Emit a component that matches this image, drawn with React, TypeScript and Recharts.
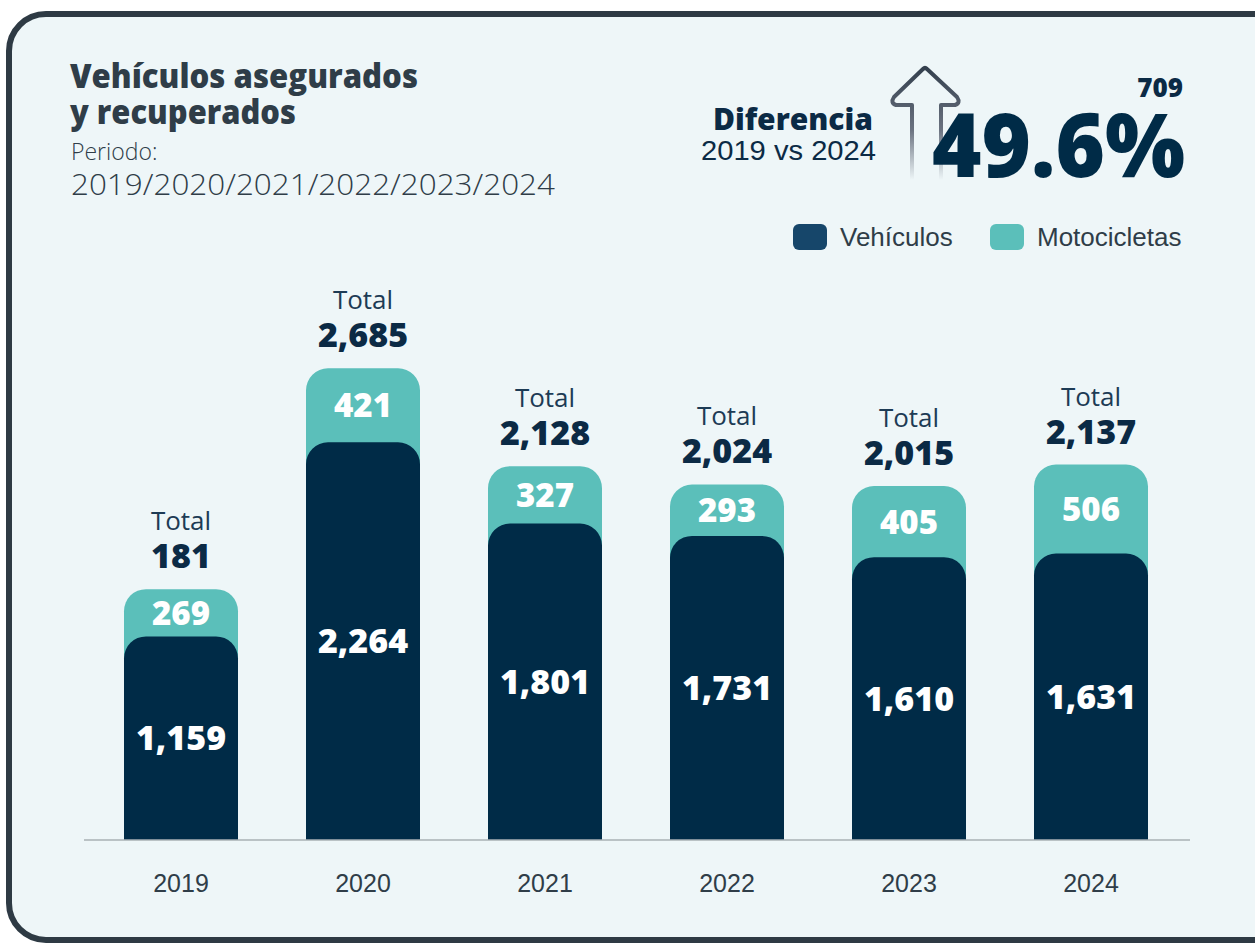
import React from 'react';
import { BarChart, Bar, XAxis, YAxis, LabelList } from 'recharts';

const years = ['2019', '2020', '2021', '2022', '2023', '2024'];
const vehiculos = [1159, 2264, 1801, 1731, 1610, 1631];
const motocicletas = [269, 421, 327, 293, 405, 506];
const totalLabels = ['181', '2,685', '2,128', '2,024', '2,015', '2,137'];

const DARK = '#002b47';
const TEAL = '#5bbfba';
const BG = '#eef6f8';
const TEXT = '#2f3d48';
const BOLD_FONT = '"Open Sans", sans-serif';
const PLAIN_FONT = '"Liberation Sans", Arial, sans-serif';

const data = years.map((year, i) => ({
  year,
  vehiculos: vehiculos[i],
  motocicletas: motocicletas[i],
  total: vehiculos[i] + motocicletas[i],
}));

const fmt = (n: number) => n.toLocaleString('en-US');

// labels for the teal (total) bar: "Total" + number above, moto count inside
const TealLabel = (props: any) => {
  const { x, y, width, height, index } = props;
  const cx = x + width / 2;
  const d = data[index];
  const tealH = (height * d.motocicletas) / d.total;
  return (
    <g>
      <text x={cx} y={y - 59} textAnchor="middle" fontFamily={BOLD_FONT} style={{ fontSize: 26 }} fill="#1d3b55">
        Total
      </text>
      <text x={cx} y={y - 21} textAnchor="middle" fontFamily={BOLD_FONT} fontWeight={800} style={{ fontSize: 34 }} fill="#0b2a45">
        {totalLabels[index]}
      </text>
      <text x={cx} y={y + tealH / 2 + 12} textAnchor="middle" fontFamily={BOLD_FONT} fontWeight={800} style={{ fontSize: 33 }} fill="#ffffff">
        {fmt(d.motocicletas)}
      </text>
    </g>
  );
};

const DarkLabel = (props: any) => {
  const { x, y, width, height, index } = props;
  return (
    <text x={x + width / 2} y={y + height / 2 + 12} textAnchor="middle" fontFamily={BOLD_FONT} fontWeight={800} style={{ fontSize: 34 }} fill="#ffffff">
      {fmt(data[index].vehiculos)}
    </text>
  );
};

const YearTick = (props: any) => {
  const { x, y, payload } = props;
  return (
    <text x={x} y={y + 50} textAnchor="middle" fontFamily={PLAIN_FONT} style={{ fontSize: 25 }} fill={TEXT}>
      {payload.value}
    </text>
  );
};

const Header = () => (
  <svg width={1255} height={300} style={{ position: 'absolute', left: 0, top: 0 }}>
    <defs>
      <linearGradient id="arrowFade" x1="0" y1="0" x2="0" y2="1">
        <stop offset="0%" stopColor="#34404e" />
        <stop offset="55%" stopColor="#6a7280" />
        <stop offset="100%" stopColor={BG} />
      </linearGradient>
    </defs>
    <text x={70} y={88} fontFamily={BOLD_FONT} fontWeight={800} fontSize={33} fill={TEXT} textLength={348} lengthAdjust="spacingAndGlyphs">
      Vehículos asegurados
    </text>
    <text x={70} y={124} fontFamily={BOLD_FONT} fontWeight={800} fontSize={33} fill={TEXT} textLength={226} lengthAdjust="spacingAndGlyphs">
      y recuperados
    </text>
    <text x={71} y={160} fontFamily={BOLD_FONT} fontWeight={300} fontSize={23} fill={TEXT}>
      Periodo:
    </text>
    <text x={71} y={195} fontFamily={BOLD_FONT} fontWeight={300} fontSize={29} fill={TEXT} textLength={484} lengthAdjust="spacingAndGlyphs">
      2019/2020/2021/2022/2023/2024
    </text>

    <text x={873} y={130} textAnchor="end" fontFamily={BOLD_FONT} fontWeight={800} fontSize={30} fill="#0b2a45">
      Diferencia
    </text>
    <text x={876} y={160} textAnchor="end" fontFamily={PLAIN_FONT} fontSize={28} fill="#0b2a45" textLength={175} lengthAdjust="spacingAndGlyphs">
      2019 vs 2024
    </text>
    <path
      d="M 912 180 L 912 105 L 896 105 Q 890 103 894 97 L 923 69 Q 925 67 927 69 L 957 97 Q 961 103 955 105 L 941 105 L 941 180"
      fill="none"
      stroke="url(#arrowFade)"
      strokeWidth={4}
      strokeLinejoin="round"
    />
    <text x={1183} y={97} textAnchor="end" fontFamily={BOLD_FONT} fontWeight={800} fontSize={26} fill="#0b2a45">
      709
    </text>
    <text x={1185} y={177} textAnchor="end" fontFamily={BOLD_FONT} fontWeight={800} fontSize={88} fill="#002b47" textLength={253} lengthAdjust="spacingAndGlyphs">
      49.6%
    </text>

    <rect x={793} y={224} width={34} height={26} rx={6} fill="#16466a" />
    <text x={840} y={246} fontFamily={PLAIN_FONT} fontSize={26} fill={TEXT}>
      Vehículos
    </text>
    <rect x={990} y={224} width={34} height={26} rx={6} fill={TEAL} />
    <text x={1037} y={246} fontFamily={PLAIN_FONT} fontSize={26} fill={TEXT}>
      Motocicletas
    </text>
  </svg>
);

export default function App() {
  return (
    <div style={{ position: 'absolute', left: 0, top: 0, width: 1255, height: 943, overflow: 'hidden', background: '#ffffff' }}>
      <div
        style={{
          position: 'absolute',
          left: 6,
          top: 11,
          width: 1300,
          height: 932,
          boxSizing: 'border-box',
          border: '6px solid #2e3a44',
          borderRadius: 40,
          background: BG,
        }}
      />
      <Header />
      <div style={{ position: 'absolute', left: 0, top: 0 }}>
        <BarChart
          width={1255}
          height={943}
          data={data}
          margin={{ top: 313, right: 65, left: 84, bottom: 0 }}
        >
          <XAxis
            xAxisId="a"
            dataKey="year"
            axisLine={{ stroke: '#a9b0b5', strokeWidth: 1.5 }}
            tickLine={false}
            tickSize={0}
            tick={<YearTick />}
            padding={{ left: 6, right: 8 }}
            height={103}
          />
          <XAxis xAxisId="b" dataKey="year" hide padding={{ left: 6, right: 8 }} />
          <YAxis hide domain={[0, 3000]} />
          <Bar xAxisId="b" dataKey="total" fill={TEAL} barSize={114} radius={[22, 22, 0, 0]} isAnimationActive={false}>
            <LabelList dataKey="total" content={<TealLabel />} />
          </Bar>
          <Bar xAxisId="a" dataKey="vehiculos" fill={DARK} barSize={114} radius={[22, 22, 0, 0]} isAnimationActive={false}>
            <LabelList dataKey="vehiculos" content={<DarkLabel />} />
          </Bar>
        </BarChart>
      </div>
    </div>
  );
}
